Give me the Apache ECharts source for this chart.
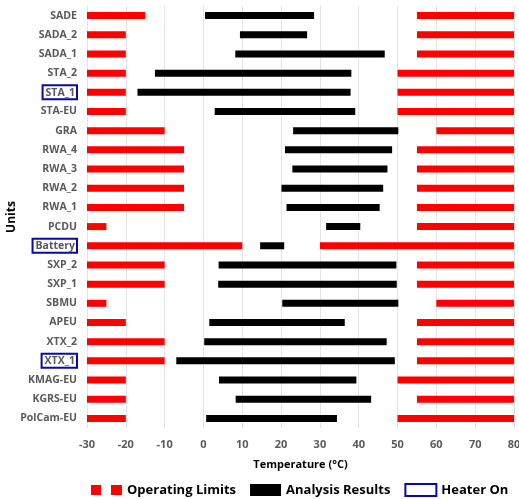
<!DOCTYPE html>
<html>
<head>
<meta charset="utf-8">
<script src="https://cdn.jsdelivr.net/npm/echarts@6/dist/echarts.min.js"></script>
<style>
  html, body { margin: 0; padding: 0; background: #fff; }
  #chart { width: 519px; height: 499px; }
</style>
</head>
<body>
<div id="chart"></div>
<script>
// units, top to bottom
const units = ["SADE", "SADA_2", "SADA_1", "STA_2", "STA_1", "STA-EU", "GRA", "RWA_4", "RWA_3", "RWA_2", "RWA_1",
  "PCDU", "Battery", "SXP_2", "SXP_1", "SBMU", "APEU", "XTX_2", "XTX_1", "KMAG-EU", "KGRS-EU", "PolCam-EU"];
// operating limits (°C)
const limitLow = [-15, -20, -20, -20, -20, -20, -10, -5, -5, -5, -5, -25, 10, -10, -10, -25, -20, -10, -10, -20, -20, -20];
const limitHigh = [55, 55, 55, 50, 50, 50, 60, 55, 55, 55, 55, 55, 30, 55, 55, 60, 55, 55, 55, 50, 55, 50];
// analysis results (°C)
const resultMin = [0.4, 9.4, 8.2, -12.5, -17, 2.9, 23.1, 21, 22.9, 20.1, 21.4, 31.6, 14.6, 3.9, 3.8, 20.3, 1.5, 0.2, -7, 4, 8.3, 0.7];
const resultMax = [28.5, 26.7, 46.7, 38.1, 37.9, 39.1, 50.2, 48.6, 47.4, 46.3, 45.4, 40.4, 20.8, 49.7, 49.8, 50.2, 36.4, 47.2, 49.3, 39.4, 43.2, 34.4];
const heaterOn = ["STA_1", "Battery", "XTX_1"];
const axisMin = -30, axisMax = 80;

const chart = echarts.init(document.getElementById("chart"));

const limitData = [];
units.forEach((u, i) => {
  limitData.push([i, axisMin, limitLow[i]]);
  limitData.push([i, limitHigh[i], axisMax]);
});
const resultData = units.map((u, i) => [i, resultMin[i], resultMax[i]]);

function rangeBar(params, api) {
  const a = api.coord([api.value(1), api.value(0)]);
  const b = api.coord([api.value(2), api.value(0)]);
  const h = 7;
  return {
    type: "rect",
    shape: { x: a[0], y: a[1] - h / 2, width: b[0] - a[0], height: h },
    style: api.style(),
  };
}

const FONT = "Open Sans";

chart.setOption({
  animation: false,
  textStyle: { fontFamily: FONT },
  grid: { left: 87, right: 5, top: 6, height: 422, outerBoundsMode: "none", containLabel: false },
  legend: {
    left: 86,
    top: 478,
    itemWidth: 31,
    itemHeight: 12,
    itemGap: 14,
    textStyle: { color: "#000", fontSize: 13, fontWeight: "bold", fontFamily: FONT },
    data: [
      { name: "Operating Limits", icon: "path://M0,0H10V10H0Z M20,0H31V10H20Z" },
      { name: "Analysis Results", icon: "rect" },
      { name: "Heater On", icon: "rect", itemStyle: { color: "#fff", borderColor: "#0a0aa0", borderWidth: 2 } },
    ],
  },
  xAxis: {
    type: "value",
    min: axisMin,
    max: axisMax,
    interval: 10,
    name: "Temperature (°C)",
    nameLocation: "middle",
    nameGap: 31,
    nameTextStyle: { color: "#000", fontSize: 11, fontWeight: "bold" },
    axisLine: { show: false },
    axisTick: { show: false },
    axisLabel: { color: "#595959", fontSize: 11, fontWeight: "bold", margin: 11 },
    splitLine: { lineStyle: { color: "#e3e3e3", width: 1 } },
  },
  yAxis: {
    type: "category",
    inverse: true,
    data: units,
    name: "Units",
    nameLocation: "middle",
    nameRotate: 90,
    nameGap: 69,
    nameMoveOverlap: false,
    nameTextStyle: { color: "#000", fontSize: 12, fontWeight: "bold" },
    axisLine: { show: false },
    axisTick: { show: false },
    axisLabel: {
      color: "#595959",
      fontSize: 10.5,
      fontWeight: "bold",
      margin: 10,
      formatter: (v) => (heaterOn.includes(v) ? "{box|" + v + "}" : v),
      rich: {
        box: {
          color: "#595959",
          fontSize: 10.5,
          fontWeight: "bold",
          borderColor: "#0a0aa0",
          borderWidth: 2,
          padding: [2, 2, 1, 3],
        },
      },
    },
  },
  series: [
    {
      name: "Operating Limits",
      type: "custom",
      renderItem: rangeBar,
      itemStyle: { color: "#ff0000" },
      encode: { x: [1, 2], y: 0 },
      data: limitData,
    },
    {
      name: "Analysis Results",
      type: "custom",
      renderItem: rangeBar,
      itemStyle: { color: "#000" },
      encode: { x: [1, 2], y: 0 },
      data: resultData,
    },
    {
      name: "Heater On",
      type: "custom",
      renderItem: rangeBar,
      itemStyle: { color: "#fff", borderColor: "#0a0aa0", borderWidth: 2 },
      data: [],
    },
  ],
});
</script>
</body>
</html>
